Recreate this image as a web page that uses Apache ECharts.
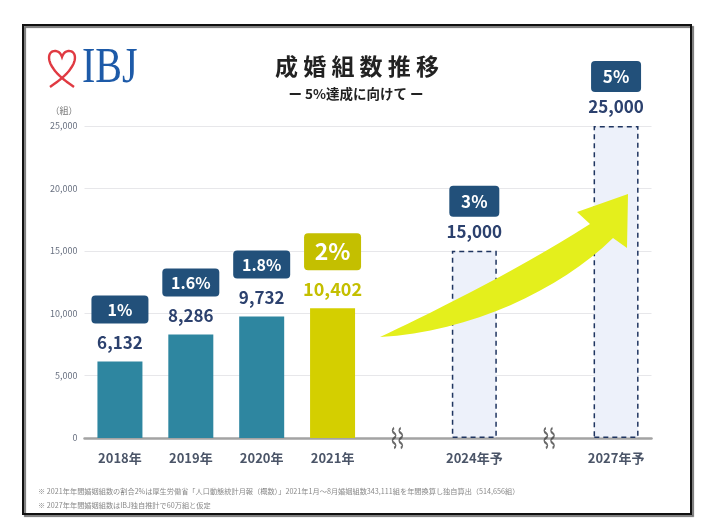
<!DOCTYPE html>
<html>
<head>
<meta charset="utf-8">
<script src="https://cdn.jsdelivr.net/npm/echarts@6/dist/echarts.min.js"></script>
<style>
html,body{margin:0;padding:0;background:#fff;}
#c{width:713px;height:530px;}
</style>
</head>
<body>
<div id="c"></div>
<script>
// ---- data ----
var categories = ['2018年', '2019年', '2020年', '2021年', '', '2024年予', '', '2027年予'];
var actualValues = [6132, 8286, 9732, 10402, '-', '-', '-', '-'];
var projectedValues = ['-', '-', '-', '-', '-', 15000, '-', 25000];
var shareLabels = ['1%', '1.6%', '1.8%', '2%', '', '3%', '', '5%'];
var breakIndexes = [4, 6];
var yTicks = [0, 5000, 10000, 15000, 20000, 25000];
var titleText = '成婚組数推移';
var subtitleText = 'ー 5%達成に向けて ー';
var unitText = '（組）';
var notes = [
  '※ 2021年年間婚姻組数の割合2%は厚生労働省「人口動態統計月報（概数）」2021年1月～8月婚姻組数343,111組を年間換算し独自算出（514,656組）',
  '※ 2027年年間婚姻組数はIBJ独自推計で60万組と仮定'
];

var FONT = "'Noto Sans CJK JP','Noto Sans',sans-serif";
var NAVY = '#2c416e';
var BADGE = '#22507a';
var YELLOW = '#d4cf00';
var YELLOW_TXT = '#c4bf00';
var TEAL = '#2e86a0';

function fmt(v){ return v.toLocaleString('en-US'); }

// sample a chain of cubic beziers / lines into points (decoration shapes)
function bez(segs){
  var pts = [];
  segs.forEach(function(s, si){
    if (s.length === 2) { if (si === 0) pts.push(s[0]); pts.push(s[1]); return; }
    for (var k = (si === 0 ? 0 : 1); k <= 16; k++){
      var t = k / 16, u = 1 - t;
      pts.push([
        u*u*u*s[0][0] + 3*u*u*t*s[1][0] + 3*u*t*t*s[2][0] + t*t*t*s[3][0],
        u*u*u*s[0][1] + 3*u*u*t*s[1][1] + 3*u*t*t*s[2][1] + t*t*t*s[3][1]
      ]);
    }
  });
  return pts;
}

var heartPts = bez([
  [[50,87],[57,82],[66,76],[71,68]],
  [[71,68],[77,60],[76,51],[69,51]],
  [[69,51],[65,51],[63,54],[62,57]],
  [[62,57],[61,54],[59,51],[55,51]],
  [[55,51],[48,51],[47,60],[53,68]],
  [[53,68],[58,76],[67,82],[74,87]]
]);
var arrowPts = bez([
  [[380,337],[420,318],[510,275],[590,224]],
  [[590,224],[577,212]],
  [[577,212],[628,194]],
  [[628,194],[627,248]],
  [[627,248],[613,238]],
  [[613,238],[560,290],[470,332],[380,337]]
]);

var rich = {
  b: {backgroundColor: BADGE, color: '#fff', fontSize: 16, fontWeight: 'bold', fontFamily: FONT,
      width: 57, height: 18, lineHeight: 18, padding: [5, 0, 5, 0], borderRadius: 4, align: 'center'},
  by: {backgroundColor: YELLOW_TXT, color: '#fff', fontSize: 23, fontWeight: 'bold', fontFamily: FONT,
      width: 57, height: 27, lineHeight: 27, padding: [5, 0, 5, 0], borderRadius: 4, align: 'center'},
  bp: {backgroundColor: BADGE, color: '#fff', fontSize: 17, fontWeight: 'bold', fontFamily: FONT,
      width: 50, height: 21, lineHeight: 21, padding: [5, 0, 5, 0], borderRadius: 4, align: 'center'},
  g: {fontSize: 1, lineHeight: 13, height: 13},
  gp: {fontSize: 1, lineHeight: 9, height: 9},
  v: {color: NAVY, fontSize: 17, fontWeight: 'bold', fontFamily: FONT, lineHeight: 22, align: 'center'},
  vy: {color: YELLOW_TXT, fontSize: 18, fontWeight: 'bold', fontFamily: FONT, lineHeight: 22, align: 'center'}
};

var actualData = actualValues.map(function(v, i){
  if (v === '-') return '-';
  var isLast = i === 3;
  return {
    value: v,
    itemStyle: {color: isLast ? YELLOW : TEAL},
    label: {
      show: true, position: 'top', distance: 8, rich: rich,
      formatter: isLast
        ? '{by|' + shareLabels[i] + '}\n{g| }\n{vy|' + fmt(v) + '}'
        : '{b|' + shareLabels[i] + '}\n{g| }\n{v|' + fmt(v) + '}'
    }
  };
});
var projectedData = projectedValues.map(function(v, i){
  if (v === '-') return '-';
  return {
    value: v,
    label: {show: true, position: 'top', distance: 8, rich: rich,
      formatter: '{bp|' + shareLabels[i] + '}\n{gp| }\n{v|' + fmt(v) + '}'}
  };
});
var breakData = breakIndexes.map(function(i, k){
  return {value: [i, 0], symbolOffset: [k === 0 ? -6 : 4, 0]};
});

var chart = echarts.init(document.getElementById('c'), null, {renderer: 'canvas'});
var option = {
  animation: false,
  backgroundColor: '#fff',
  textStyle: {fontFamily: FONT},
  grid: {left: 84.5, right: 61.5, top: 126, bottom: 92, containLabel: false},
  xAxis: {
    type: 'category', data: categories,
    axisTick: {show: false},
    axisLine: {lineStyle: {color: '#a3a3a3', width: 2.5}},
    axisLabel: {color: '#4b5568', fontSize: 13, fontWeight: 'bold', margin: 14, fontFamily: FONT, interval: 0}
  },
  yAxis: {
    type: 'value', min: 0, max: yTicks[yTicks.length - 1], interval: yTicks[1] - yTicks[0],
    axisLine: {show: false}, axisTick: {show: false},
    splitLine: {lineStyle: {color: '#e7e7ea', width: 1}},
    axisLabel: {color: '#687080', fontSize: 9, margin: 7, fontFamily: FONT,
      formatter: function(v){ return fmt(v); }}
  },
  series: [
    {type: 'bar', name: 'actual', data: actualData, barWidth: 45, barGap: '-100%', z: 3},
    {type: 'bar', name: 'projected', data: projectedData, barWidth: 45, barGap: '-100%', z: 3,
      itemStyle: {color: '#edf1fa', borderColor: '#1f3560', borderWidth: 1.5, borderType: [5, 4]}},
    {type: 'scatter', name: 'break', data: breakData, z: 5, silent: true,
      symbol: 'path://M2,0 Q-0.5,2.5 2,5 Q4.5,7.5 2,10 Q-0.5,12.5 2,15 Q4.5,17.5 2,20 M7,0 Q4.5,2.5 7,5 Q9.5,7.5 7,10 Q4.5,12.5 7,15 Q9.5,17.5 7,20',
      symbolSize: [10, 20],
      itemStyle: {color: 'rgba(0,0,0,0)', borderColor: '#444', borderWidth: 1.9}}
  ],
  graphic: [
    {type: 'rect', z: 0, shape: {x: 23, y: 25, width: 668, height: 489},
      style: {fill: 'none', stroke: '#111', lineWidth: 2, shadowColor: 'rgba(0,0,0,0.55)', shadowOffsetX: 2, shadowOffsetY: 2, shadowBlur: 1}},
    {type: 'text', z: 10, x: 357, y: 66,
      style: {text: '成 婚 組 数 推 移', font: 'bold 23px ' + FONT, fill: '#222', align: 'center', verticalAlign: 'middle'}},
    {type: 'text', z: 10, x: 356, y: 94,
      style: {text: subtitleText, font: 'bold 13.5px ' + FONT, fill: '#222', align: 'center', verticalAlign: 'middle'}},
    {type: 'text', z: 10, x: 64, y: 111,
      style: {text: unitText, font: '9px ' + FONT, fill: '#777', align: 'center', verticalAlign: 'middle'}},
    {type: 'polyline', z: 10, shape: {points: heartPts},
      style: {fill: null, stroke: '#e03a42', lineWidth: 2.4}},
    {type: 'text', z: 10, x: 82, y: 69, scaleX: 0.8,
      style: {text: 'IBJ', font: '50px "Liberation Serif", "DejaVu Serif", serif', fill: '#1d5aa8', verticalAlign: 'middle'}},
    {type: 'polygon', z: 20, shape: {points: arrowPts},
      style: {fill: '#e4ef1c'}},
    {type: 'text', z: 10, x: 38, y: 491,
      style: {text: notes[0], font: '7.2px ' + FONT, fill: '#888', verticalAlign: 'middle'}},
    {type: 'text', z: 10, x: 38, y: 505,
      style: {text: notes[1], font: '7.2px ' + FONT, fill: '#888', verticalAlign: 'middle'}}
  ]
};
chart.setOption(option);
</script>
</body>
</html>
